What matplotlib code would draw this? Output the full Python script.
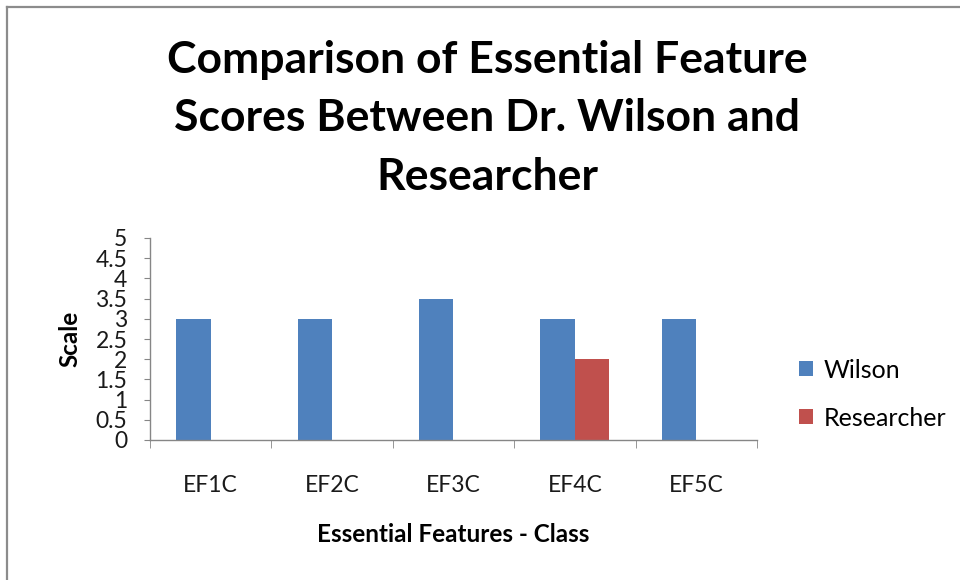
import matplotlib
matplotlib.use("Agg")
import matplotlib.pyplot as plt
from matplotlib.lines import Line2D
import numpy as np

# === Daten ===
categories = ["EF1C", "EF2C", "EF3C", "EF4C", "EF5C"]
wilson = [3, 3, 3.5, 3, 3]
researcher = [0, 0, 0, 2, 0]
series_names = ["Wilson", "Researcher"]
colors = ["#4F81BD", "#C0504D"]
y_ticks = [0, 0.5, 1, 1.5, 2, 2.5, 3, 3.5, 4, 4.5, 5]
y_tick_labels = ["0", "0.5", "1", "1.5", "2", "2.5", "3", "3.5", "4", "4.5", "5"]
title_lines = ["Comparison of Essential Feature", "Scores Between Dr. Wilson and", "Researcher"]

plt.rcParams["font.family"] = ["Lato", "DejaVu Sans"]

W, H = 960, 580
fig = plt.figure(figsize=(9.6, 5.8), dpi=100)
fig.patch.set_facecolor("white")

# Rahmen (nur links und oben sichtbar)
border = "#8c8c8c"
fig.add_artist(Line2D([7 / W, 7 / W], [0, 1 - 7 / H], color=border, lw=1.6, transform=fig.transFigure))
fig.add_artist(Line2D([7 / W, 1], [1 - 7 / H, 1 - 7 / H], color=border, lw=1.6, transform=fig.transFigure))

ax = fig.add_axes([150 / W, 1 - 440 / H, 607 / W, 202 / H])

x = np.arange(len(categories))
bw = 0.285
ax.bar(x - bw / 2, wilson, bw, color=colors[0], label=series_names[0], zorder=2)
ax.bar(x + bw / 2, researcher, bw, color=colors[1], label=series_names[1], zorder=2)

ax.set_xlim(-0.5, len(categories) - 0.5)
ax.set_ylim(0, 5)

for s in ["top", "right"]:
    ax.spines[s].set_visible(False)
for s in ["left", "bottom"]:
    ax.spines[s].set_color("#868686")
    ax.spines[s].set_linewidth(1.0)

ax.set_yticks(y_ticks)
ax.set_yticklabels(y_tick_labels)
ax.tick_params(axis="y", direction="out", length=4.3, color="#868686", labelsize=16.5, pad=12, labelcolor="#1a1a1a")

ax.set_xticks(x)
ax.set_xticklabels(categories)
ax.set_xticks(np.arange(-0.5, len(categories)), minor=True)
ax.tick_params(axis="x", which="major", length=0, labelsize=16.5, pad=25, labelcolor="#1a1a1a")
ax.tick_params(axis="x", which="minor", direction="out", length=5.8, color="#868686")

ax.set_xlabel("Essential Features - Class", fontsize=17.5, fontweight="bold", labelpad=20)
ax.set_ylabel("Scale", fontsize=17.5, fontweight="bold", labelpad=10)

# Titel
title_y = [60, 118, 177]
for line, yy in zip(title_lines, title_y):
    fig.text(487 / W, 1 - yy / H, line, ha="center", va="center", fontsize=32, fontweight="bold")

leg = ax.legend(loc="center left", bbox_to_anchor=(799 / W, 1 - 394 / H), bbox_transform=fig.transFigure,
                frameon=False, fontsize=18, handlelength=0.55, handleheight=0.55, handletextpad=0.45,
                labelspacing=1.0, borderpad=0, borderaxespad=0)

fig.savefig("out.png", dpi=100, facecolor="white")
